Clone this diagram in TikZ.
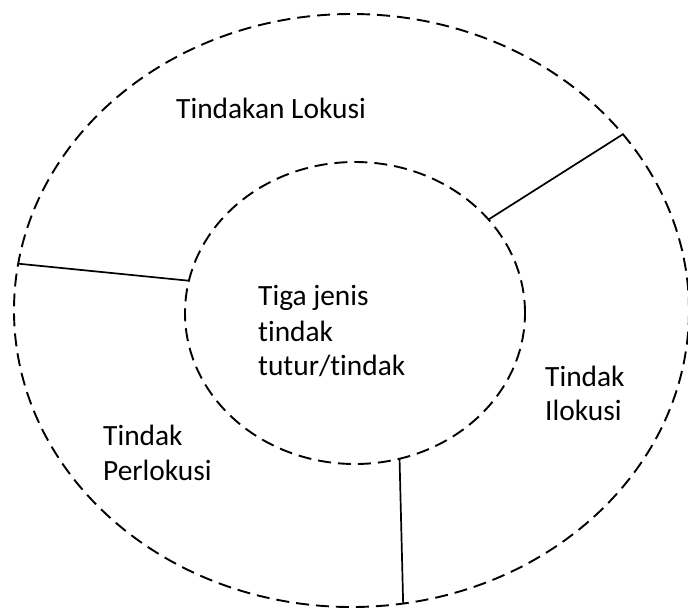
\documentclass[tikz,border=0pt]{standalone}
\usepackage{fontspec}
\setmainfont{Carlito}[Ligatures=NoCommon]
\usetikzlibrary{shapes.geometric}
\begin{document}
\begin{tikzpicture}[x=1pt,y=-1pt,
  ring/.style={ellipse,draw,dash pattern=on 13pt off 7pt,line width=1.9pt,inner sep=0pt,outer sep=0pt},
  lbl/.style={anchor=base west,inner sep=0pt,font=\fontsize{29.4}{34}\selectfont},
  divider/.style={line width=1.7pt}]
\useasboundingbox (0,0) rectangle (688,611);
\node[ring,minimum width=675pt,minimum height=593pt] (outer) at (351.5,310.5) {};
\node[ring,minimum width=340pt,minimum height=302pt] (inner) at (355,313) {};
\draw[divider] (inner.35.8) -- (outer.33.7);
\draw[divider] (inner.169.9) -- (outer.172.7);
\draw[divider] (inner.-73.4) -- (outer.-80.6);
\node[lbl] (lok) at (176,118) {Tindakan Lokusi};
\node[lbl] (c1) at (258,305) {Tiga jenis};
\node[lbl] (c2) at (258,341) {tindak};
\node[lbl] (c3) at (258,375) {tutur/tindak};
\node[lbl] (il1) at (545,386) {Tindak};
\node[lbl] (il2) at (545,420) {Ilokusi};
\node[lbl] (pl1) at (103,445) {Tindak};
\node[lbl] (pl2) at (103,480) {Perlokusi};
\end{tikzpicture}
\end{document}
